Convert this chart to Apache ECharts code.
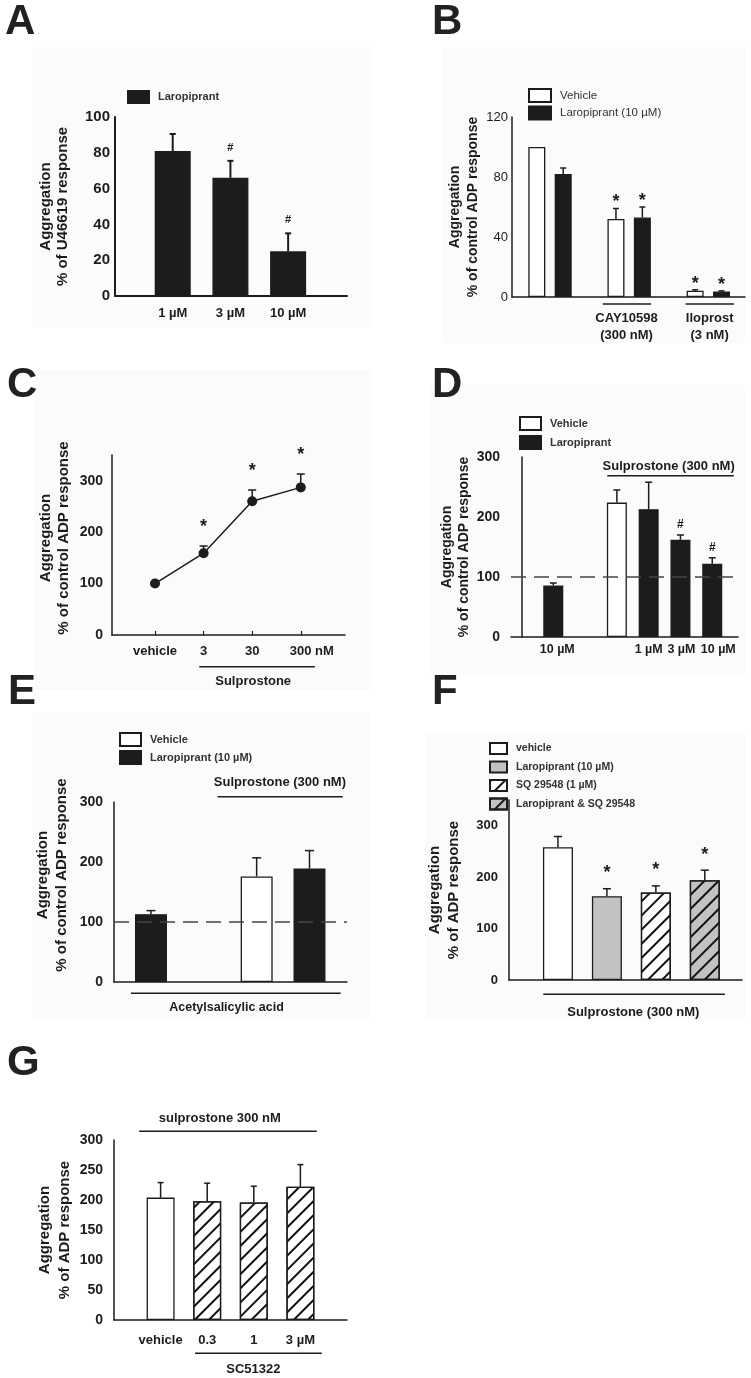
<!DOCTYPE html>
<html><head><meta charset="utf-8">
<script src="https://cdn.jsdelivr.net/npm/echarts@6/dist/echarts.min.js"></script>
<style>html,body{margin:0;padding:0;background:#fff;width:751px;height:1378px;overflow:hidden}.p{position:absolute;left:0;top:0;width:751px;height:1378px}</style>
</head><body>
<script>
// ---------- DATA ----------
// Panel A
const aLabels = ['1 µM', '3 µM', '10 µM'];
const aMean = [81, 66, 25];
const aSem = [9.5, 9.5, 10];
const aMarks = ['', '#', '#'];
// Panel B
const bGroups = ['', 'CAY10598\n(300 nM)', 'Iloprost\n(3 nM)'];
const bVehicle = [100, 52, 4.2];
const bVehicleSem = [0, 7, 0.6];
const bLaro = [82, 53, 3.7];
const bLaroSem = [4, 7, 0.4];
const bMarks = ['', '*', '*'];
// Panel C
const cLabels = ['vehicle', '3', '30', '300 nM'];
const cMean = [100, 159, 260, 287];
const cSem = [0, 14, 22, 26];
const cMarks = ['', '*', '*', '*'];
// Panel D
const dLabels = ['10 µM', '', '1 µM', '3 µM', '10 µM'];
const dTreat = ['Laropiprant', 'Vehicle', 'Laropiprant', 'Laropiprant', 'Laropiprant'];
const dMean = [86, 224, 213, 162, 122];
const dSem = [4, 21, 45, 8, 10];
const dMarks = ['', '', '', '#', '#'];
const dRef = 100;
// Panel E
const eTreat = ['Laropiprant (10 µM)', 'Vehicle', 'Laropiprant (10 µM)'];
const eMean = [113, 176, 189];
const eSem = [6, 31, 30];
const eRef = 100;
// Panel F
const fSeries = ['vehicle', 'Laropiprant (10 µM)', 'SQ 29548 (1 µM)', 'Laropiprant & SQ 29548'];
const fMean = [258, 163, 170, 194];
const fSem = [21, 14.5, 13, 19.6];
const fMarks = ['', '*', '*', '*'];
// Panel G
const gLabels = ['vehicle', '0.3', '1', '3 µM'];
const gMean = [204, 198, 196, 222];
const gSem = [25, 30, 27, 37];

// ---------- HELPERS ----------
const FONT = '"Liberation Sans", Arial, Helvetica, sans-serif';
const INK = '#1c1c1c';
const HATCH = {symbol: 'rect', symbolSize: 1, dashArrayX: [1, 0], dashArrayY: [1.6, 7.4], rotation: -Math.PI / 4, color: '#111'};

function newChart() {
  const d = document.createElement('div'); d.className = 'p'; document.body.appendChild(d);
  return echarts.init(d, null, {renderer: 'canvas'});
}
function yAx(o) {
  return {
    type: 'value', min: 0, max: o.max, interval: o.interval,
    name: o.name, nameLocation: 'middle', nameRotate: 90, nameGap: o.nameGap,
    nameTextStyle: {fontFamily: FONT, fontWeight: 'bold', fontSize: o.nameSize || 15, color: INK, lineHeight: o.nameLH || 17, align: 'center', padding: o.namePad || [0, 0, 0, 0]},
    axisLine: {show: true, lineStyle: {color: INK, width: o.lineW || 1.5}},
    axisTick: {show: false}, splitLine: {show: false},
    axisLabel: {margin: o.labMargin, fontFamily: FONT, fontWeight: o.labWeight || 'bold', fontSize: o.labSize || 14, color: INK, showMaxLabel: o.showMax !== false, showMinLabel: true}
  };
}
function xAx(o) {
  const pos = o.pos || [], labels = o.labels || [];
  return {
    type: 'value', min: o.min, max: o.max,
    axisLine: {show: true, onZero: false, lineStyle: {color: INK, width: o.lineW || 1.5}},
    splitLine: {show: false},
    axisTick: {show: !!o.ticks, inside: true, length: 4, customValues: pos, lineStyle: {color: INK, width: 1.2}},
    axisLabel: {
      show: labels.length > 0, customValues: pos, margin: o.labMargin || 10, hideOverlap: false,
      fontFamily: FONT, fontWeight: 'bold', fontSize: o.labSize || 13, color: INK,
      formatter: function (v) {
        const i = pos.findIndex(p => Math.abs(p - v) < 1e-6);
        if (i < 0) return '';
        return o.fmt ? o.fmt(labels[i], i) : labels[i];
      },
      rich: o.rich
    }
  };
}
function barS(name, xs, vals, st) {
  return {
    type: 'bar', name: name, data: xs.map((x, i) => [x, vals[i]]), barWidth: st.w, barGap: '-100%',
    itemStyle: {color: st.fill, borderColor: INK, borderWidth: st.bw || 1.3, decal: st.decal},
    emphasis: {disabled: true}, silent: true, z: 2, markLine: st.markLine
  };
}
function errSeries(xs, means, sems, marks, st) {
  return {
    type: 'custom', silent: true, z: 6, clip: false,
    data: xs.map((x, i) => [x, means[i], sems[i], i]),
    encode: {x: 0, y: 1},
    renderItem: function (params, api) {
      const x = api.value(0), m = api.value(1), s = api.value(2), i = api.value(3);
      const p0 = api.coord([x, m]), p1 = api.coord([x, m + s]);
      const ch = [];
      if (s > 0) {
        ch.push({type: 'line', shape: {x1: p0[0], y1: p0[1], x2: p1[0], y2: p1[1]}, style: {stroke: INK, lineWidth: st.lw}});
        ch.push({type: 'line', shape: {x1: p1[0] - st.cap, y1: p1[1], x2: p1[0] + st.cap, y2: p1[1]}, style: {stroke: INK, lineWidth: st.lw}});
      }
      const mk = marks ? marks[i] : '';
      if (mk) {
        ch.push({type: 'text', style: {text: mk, x: p1[0], y: p1[1] - (mk === '*' ? st.starGap : st.hashGap), align: 'center', verticalAlign: 'middle',
          fontFamily: FONT, fontWeight: 'bold', fontSize: mk === '*' ? st.star : st.hash, fill: INK}});
      }
      return {type: 'group', children: ch};
    }
  };
}
function decorate(ch, letter, bg, items) {
  const g = [];
  if (bg) g.push({type: 'rect', z: -10, silent: true, shape: {x: bg[0], y: bg[1], width: bg[2], height: bg[3]}, style: {fill: '#fbfbfb'}});
  g.push({type: 'text', silent: true, style: {text: letter[0], x: letter[1], y: letter[2], verticalAlign: 'middle', align: 'left', fontFamily: FONT, fontWeight: 'bold', fontSize: 42, fill: '#222'}});
  items.forEach(it => {
    if (it.line) {
      const a = ch.convertToPixel({gridIndex: 0}, it.line[0]);
      const b = ch.convertToPixel({gridIndex: 0}, it.line[1]);
      g.push({type: 'line', silent: true, shape: {x1: a[0], y1: a[1], x2: b[0], y2: a[1]}, style: {stroke: INK, lineWidth: it.w || 1.5}});
    }
    if (it.text) {
      const p = ch.convertToPixel({gridIndex: 0}, it.at);
      g.push({type: 'text', silent: true, style: {text: it.text, x: p[0], y: p[1], align: 'center', verticalAlign: 'middle',
        fontFamily: FONT, fontWeight: it.weight || 'bold', fontSize: it.size || 13, lineHeight: it.lh || 16, fill: it.color || INK}});
    }
  });
  ch.setOption({graphic: g});
}
function legendOpt(o) {
  return {
    orient: 'vertical', left: o.left, top: o.top, itemWidth: o.iw, itemHeight: o.ih, itemGap: o.gap || 3,
    selectedMode: false, data: o.data.map(n => ({name: n, icon: 'rect'})), padding: 0,
    textStyle: {fontFamily: FONT, fontWeight: o.weight || 'bold', fontSize: o.size || 11, color: o.color || '#333', padding: [0, 0, 0, 4]}
  };
}

// ---------- PANEL A ----------
(function () {
  const ch = newChart();
  const pos = [1, 2, 3];
  ch.setOption({
    animation: false,
    grid: {left: 115, top: 117, width: 232, height: 179},
    legend: legendOpt({left: 127, top: 90, iw: 21, ih: 12, data: ['Laropiprant']}),
    xAxis: xAx({min: 0, max: 4.02, pos: pos, labels: aLabels, labMargin: 11, labSize: 13, lineW: 2}),
    yAxis: yAx({max: 100, interval: 20, name: 'Aggregation\n% of U46619 response', nameGap: 44, labMargin: 5, labSize: 15, lineW: 2}),
    series: [
      barS('Laropiprant', pos, aMean, {w: 36, fill: '#1c1c1c'}),
      errSeries(pos, aMean, aSem, aMarks, {lw: 2, cap: 3, hashGap: 13, starGap: 6, hash: 11, star: 18})
    ]
  });
  decorate(ch, ['A', 5, 22], [32, 47, 340, 281], []);
})();

// ---------- PANEL B ----------
(function () {
  const ch = newChart();
  const posV = [1, 4, 7], posL = [2, 5, 8];
  ch.setOption({
    animation: false,
    grid: {left: 512, top: 117, width: 233, height: 180},
    legend: legendOpt({left: 528, top: 88, iw: 22, ih: 13, gap: 2.5, weight: 'normal', size: 11.5, data: ['Vehicle', 'Laropiprant (10 µM)']}),
    xAxis: xAx({min: 0.06, max: 8.89}),
    yAxis: yAx({max: 120, interval: 40, name: 'Aggregation\n% of control ADP response', nameGap: 29, nameSize: 14, nameLH: 18, labMargin: 4, labSize: 13, labWeight: 'normal'}),
    series: [
      barS('Vehicle', posV, bVehicle, {w: 17, fill: '#ffffff'}),
      barS('Laropiprant (10 µM)', posL, bLaro, {w: 17, fill: '#1c1c1c'}),
      errSeries(posV, bVehicle, bVehicleSem, bMarks, {lw: 1.5, cap: 3, hashGap: 10, starGap: 6, hash: 11, star: 18}),
      errSeries(posL, bLaro, bLaroSem, bMarks, {lw: 1.5, cap: 3, hashGap: 10, starGap: 6, hash: 11, star: 18})
    ]
  });
  decorate(ch, ['B', 432, 22], [443, 47, 302, 296], [
    {line: [[3.5, -4.7], [5.33, -4.7]]},
    {line: [[6.64, -4.7], [8.47, -4.7]]},
    {text: bGroups[1], at: [4.4, -19.8], size: 13, lh: 17},
    {text: bGroups[2], at: [7.55, -19.8], size: 13, lh: 17}
  ]);
})();

// ---------- PANEL C ----------
(function () {
  const ch = newChart();
  const pos = [1, 2, 3, 4];
  ch.setOption({
    animation: false,
    grid: {left: 112, top: 455, width: 233, height: 180},
    xAxis: xAx({min: 0.115, max: 4.91, pos: pos, labels: cLabels, ticks: true, labMargin: 10, labSize: 13,
      fmt: l => l === '300 nM' ? '{s|' + l + '}' : l, rich: {s: {padding: [0, 0, 0, 22], fontFamily: FONT, fontWeight: 'bold', fontSize: 13, color: INK}}}),
    yAxis: yAx({max: 350, interval: 100, showMax: false, name: 'Aggregation\n% of control ADP response', nameGap: 39, nameLH: 18, namePad: [0, 0, 0, 14], labMargin: 9, labSize: 14}),
    series: [
      {type: 'line', data: pos.map((x, i) => [x, cMean[i]]), symbol: 'circle', symbolSize: 10, itemStyle: {color: INK}, lineStyle: {color: INK, width: 1.5}, z: 4, silent: true},
      errSeries(pos, cMean, cSem, cMarks, {lw: 1.5, cap: 4, hashGap: 10, starGap: 18.5, hash: 11, star: 18})
    ]
  });
  decorate(ch, ['C', 7, 385], [35, 370, 337, 320], [
    {line: [[1.91, -61.6], [4.29, -61.6]]},
    {text: 'Sulprostone', at: [3.02, -89.4], size: 13}
  ]);
})();

// ---------- PANEL D ----------
(function () {
  const ch = newChart();
  const allPos = [1, 3, 4, 5, 6];
  const vPos = [], vVal = [], lPos = [], lVal = [];
  dTreat.forEach((t, i) => { if (t === 'Vehicle') { vPos.push(allPos[i]); vVal.push(dMean[i]); } else { lPos.push(allPos[i]); lVal.push(dMean[i]); } });
  const shift = [8, 0, 0, 2, 12];
  ch.setOption({
    animation: false,
    grid: {left: 511, top: 457, width: 227, height: 180},
    legend: legendOpt({left: 519, top: 416, iw: 21, ih: 13, gap: 4, data: ['Vehicle', 'Laropiprant']}),
    xAxis: xAx({min: -0.33, max: 6.81, pos: allPos, labels: dLabels, labMargin: 6, labSize: 12.5,
      fmt: (l, i) => l ? '{s' + i + '|' + l + '}' : '',
      rich: Object.fromEntries(shift.map((s, i) => ['s' + i, {padding: [0, 0, 0, s], fontFamily: FONT, fontWeight: 'bold', fontSize: 12.5, color: INK}]))}),
    yAxis: yAx({max: 300, interval: 100, name: 'Aggregation\n% of control ADP response', nameGap: 36, nameSize: 14, nameLH: 17, labMargin: 11, labSize: 14}),
    series: [
      barS('Vehicle', vPos, vVal, {w: 20, fill: '#ffffff'}),
      barS('Laropiprant', lPos, lVal, {w: 20, fill: '#1c1c1c',
        markLine: {silent: true, symbol: 'none', label: {show: false}, animation: false, lineStyle: {type: [15, 8], color: '#444', width: 1.5}, data: [{yAxis: dRef}]}}),
      errSeries(allPos, dMean, dSem, dMarks, {lw: 1.5, cap: 3.5, hashGap: 10, starGap: 6, hash: 12, star: 18})
    ]
  });
  decorate(ch, ['D', 432, 385], [430, 385, 315, 290], [
    {line: [[2.7, 268.8], [6.68, 268.8]]},
    {text: 'Sulprostone (300 nM)', at: [4.63, 283.8], size: 13}
  ]);
})();

// ---------- PANEL E ----------
(function () {
  const ch = newChart();
  const allPos = [1, 3, 4];
  const vPos = [], vVal = [], lPos = [], lVal = [];
  eTreat.forEach((t, i) => { if (t === 'Vehicle') { vPos.push(allPos[i]); vVal.push(eMean[i]); } else { lPos.push(allPos[i]); lVal.push(eMean[i]); } });
  ch.setOption({
    animation: false,
    grid: {left: 114, top: 802, width: 233, height: 180},
    legend: legendOpt({left: 119, top: 732, iw: 21, ih: 13, gap: 3, data: ['Vehicle', 'Laropiprant (10 µM)']}),
    xAxis: xAx({min: 0.3, max: 4.71}),
    yAxis: yAx({max: 300, interval: 100, name: 'Aggregation\n% of control ADP response', nameGap: 43, nameLH: 19, namePad: [0, 0, 0, 34], labMargin: 11, labSize: 14}),
    series: [
      barS('Vehicle', vPos, vVal, {w: 32, fill: '#ffffff'}),
      barS('Laropiprant (10 µM)', lPos, lVal, {w: 32, fill: '#1c1c1c',
        markLine: {silent: true, symbol: 'none', label: {show: false}, animation: false, lineStyle: {type: [15, 8], color: '#444', width: 1.5}, data: [{yAxis: eRef}]}}),
      errSeries(allPos, eMean, eSem, null, {lw: 1.5, cap: 4.5, hashGap: 10, starGap: 6, hash: 12, star: 18})
    ]
  });
  decorate(ch, ['E', 8, 692], [32, 713, 338, 307], [
    {line: [[2.26, 308.8], [4.63, 308.8]]},
    {text: 'Sulprostone (300 nM)', at: [3.44, 332.8], size: 13},
    {line: [[0.62, -18.8], [4.59, -18.8]]},
    {text: 'Acetylsalicylic acid', at: [2.43, -42.2], size: 12.5}
  ]);
})();

// ---------- PANEL F ----------
(function () {
  const ch = newChart();
  const pos = [1, 2, 3, 4];
  const styles = [
    {w: 30, fill: '#ffffff'},
    {w: 30, fill: '#c2c2c2'},
    {w: 30, fill: '#ffffff', decal: HATCH},
    {w: 30, fill: '#c2c2c2', decal: HATCH}
  ];
  const series = fSeries.map((n, i) => barS(n, [pos[i]], [fMean[i]], styles[i]));
  series.push(errSeries(pos, fMean, fSem, fMarks, {lw: 1.5, cap: 4, hashGap: 10, starGap: 15.5, hash: 12, star: 18}));
  ch.setOption({
    animation: false,
    grid: {left: 509, top: 800, width: 233, height: 180},
    legend: legendOpt({left: 489, top: 742, iw: 17, ih: 11, gap: 5.5, size: 10.5, data: fSeries}),
    xAxis: xAx({min: 0, max: 4.76}),
    yAxis: yAx({max: 350, interval: 100, showMax: false, name: 'Aggregation\n% of ADP response', nameGap: 46, nameLH: 19, labMargin: 11, labSize: 13}),
    series: series
  });
  decorate(ch, ['F', 432, 692], [425, 733, 320, 287], [
    {line: [[0.7, -27.8], [4.41, -27.8]]},
    {text: 'Sulprostone (300 nM)', at: [2.54, -62.8], size: 13}
  ]);
})();

// ---------- PANEL G ----------
(function () {
  const ch = newChart();
  const pos = [1, 2, 3, 4];
  ch.setOption({
    animation: false,
    grid: {left: 114, top: 1140, width: 233, height: 180},
    xAxis: xAx({min: 0, max: 5, pos: pos, labels: gLabels, labMargin: 14, labSize: 13}),
    yAxis: yAx({max: 300, interval: 50, name: 'Aggregation\n% of ADP response', nameGap: 39, nameLH: 20, labMargin: 11, labSize: 14}),
    series: [
      barS('vehicle', [pos[0]], [gMean[0]], {w: 28, fill: '#ffffff'}),
      barS('SC51322', pos.slice(1), gMean.slice(1), {w: 28, fill: '#ffffff', decal: HATCH}),
      errSeries(pos, gMean, gSem, null, {lw: 1.5, cap: 3, hashGap: 10, starGap: 6, hash: 12, star: 18})
    ]
  });
  decorate(ch, ['G', 7, 1063], null, [
    {line: [[0.54, 314.5], [4.35, 314.5]]},
    {text: 'sulprostone 300 nM', at: [2.27, 336.2], size: 13},
    {line: [[1.74, -55.5], [4.46, -55.5]]},
    {text: 'SC51322', at: [2.99, -81.7], size: 13}
  ]);
})();
</script>
</body></html>
